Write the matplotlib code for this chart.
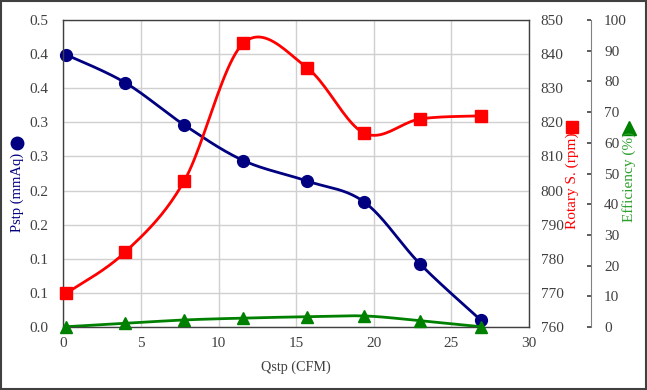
import matplotlib
matplotlib.use("Agg")
import matplotlib.pyplot as plt
from matplotlib.lines import Line2D
from matplotlib.patches import Rectangle
import numpy as np

# data
qstp = [0.2, 4.0, 7.8, 11.6, 15.7, 19.4, 23.0, 26.9]
pstp = [0.399, 0.358, 0.296, 0.244, 0.214, 0.183, 0.092, 0.010]
rotary = [769.9, 782.0, 802.9, 843.2, 836.0, 816.8, 821.0, 821.9]
efficiency = [0.1, 1.2, 2.3, 2.9, 3.35, 3.6, 2.05, 0.1]

pstp_ticks = [0.0, 0.05, 0.10, 0.15, 0.20, 0.25, 0.30, 0.35, 0.40, 0.45]
pstp_labels = ["0.0", "0.1", "0.1", "0.2", "0.2", "0.3", "0.3", "0.4", "0.4", "0.5"]
rpm_ticks = list(range(760, 851, 10))
eff_ticks = list(range(0, 101, 10))
q_ticks = list(range(0, 31, 5))

NAVY = "#000080"
RED = "#ff0000"
GREEN = "#008000"
TXT = "#404040"

plt.rcParams["font.family"] = ["Liberation Serif", "DejaVu Sans"]
plt.rcParams["font.size"] = 11


def smooth(x, y, n=24):
    # excel-like smoothed line (bezier through the points)
    pts = np.column_stack([x, y]).astype(float)
    P = np.vstack([pts[0], pts, pts[-1]])
    t = np.linspace(0, 1, n)[:, None]
    out = []
    for i in range(len(pts) - 1):
        p0, p1, p2, p3 = P[i], P[i + 1], P[i + 2], P[i + 3]
        c1 = p1 + (p2 - p0) / 6
        c2 = p2 - (p3 - p1) / 6
        seg = ((1 - t) ** 3) * p1 + 3 * ((1 - t) ** 2) * t * c1 + 3 * (1 - t) * t ** 2 * c2 + t ** 3 * p2
        out.append(seg if i == 0 else seg[1:])
    out = np.vstack(out)
    return out[:, 0], out[:, 1]


fig = plt.figure(figsize=(6.47, 3.90), dpi=100)
ax = fig.add_axes([0.0978, 0.1615, 0.7198, 0.7872])

ax.set_xlim(0, 30)
ax.set_ylim(0, 0.45)
ax.set_xticks(q_ticks)
ax.set_yticks(pstp_ticks)
ax.set_yticklabels(pstp_labels)
ax.grid(True, color="#d0d0d0", linewidth=1.0)
ax.set_axisbelow(True)
ax.tick_params(axis="y", length=0, pad=10.4, colors=TXT)
ax.tick_params(axis="x", length=0, pad=7, colors=TXT)
for s in ax.spines.values():
    s.set_color("#404040")
    s.set_linewidth(1.0)

sx, sy = smooth(qstp, pstp)
ax.plot(sx, sy, color=NAVY, lw=2.0)
ax.plot(qstp, pstp, ls="none", marker="o", ms=8.5, color=NAVY, clip_on=False)
ax.set_xlabel("Qstp (CFM)", color=TXT, labelpad=8, fontsize=10.2)

ax2 = ax.twinx()
ax2.set_ylim(760, 850)
ax2.set_yticks(rpm_ticks)
ax2.tick_params(axis="y", length=0, pad=8.4, colors=TXT)
for s in ax2.spines.values():
    s.set_visible(False)
sx, sy = smooth(qstp, rotary)
ax2.plot(sx, sy, color=RED, lw=2.0)
ax2.plot(qstp, rotary, ls="none", marker="s", ms=8.5, color=RED, clip_on=False)

ax3 = ax.twinx()
ax3.set_ylim(0, 100)
ax3.set_yticks(eff_ticks)
for k, s in ax3.spines.items():
    s.set_visible(k == "right")
ax3.spines["right"].set_position(("axes", 1.133))
ax3.spines["right"].set_color("#808080")
ax3.tick_params(axis="y", direction="in", length=3, width=1.2, color="#404040", pad=9.5, labelcolor=TXT)
sx, sy = smooth(qstp, efficiency)
ax3.plot(sx, sy, color=GREEN, lw=2.0)
ax3.plot(qstp, efficiency, ls="none", marker="^", ms=8.5, color=GREEN, clip_on=False)

# axis titles with their series symbol
fig.text(17.5 / 647, 1 - 192 / 390, "Pstp (mmAq)", rotation=90, color=NAVY, ha="center", va="center", fontsize=10.5)
fig.add_artist(Line2D([17 / 647], [1 - 143 / 390], marker="o", ms=9, color=NAVY, transform=fig.transFigure))
fig.text(572 / 647, 1 - 181 / 390, "Rotary S. (rpm)", rotation=90, color=RED, ha="center", va="center")
fig.add_artist(Line2D([572 / 647], [1 - 127 / 390], marker="s", ms=9, color=RED, transform=fig.transFigure))
fig.text(629 / 647, 1 - 177 / 390, "Efficiency (%)", rotation=90, color="#2ca02c", ha="center", va="center")
fig.add_artist(Line2D([629 / 647], [1 - 128 / 390], marker="^", ms=9.5, color=GREEN, transform=fig.transFigure))

# outer frame
fig.patches.append(Rectangle((0.001, 0.002), 0.997, 0.996, transform=fig.transFigure,
                             fill=False, edgecolor="#404040", linewidth=1.5))

fig.savefig("out.png", dpi=100)
